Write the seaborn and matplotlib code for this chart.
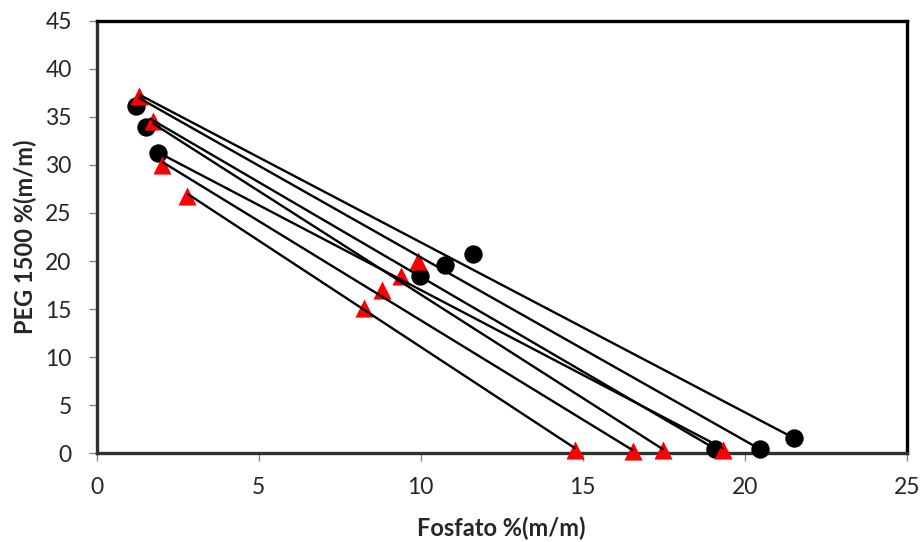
import matplotlib
matplotlib.use("Agg")
import matplotlib.pyplot as plt
import seaborn as sns
import pandas as pd

# Circle series (top, middle, bottom phase compositions)
circle_x = [1.21, 1.51, 1.90, 9.98, 10.75, 11.62, 19.08, 20.47, 21.52]
circle_y = [36.1, 33.9, 31.2, 18.4, 19.6, 20.7, 0.5, 0.45, 1.6]

# Triangle series
tri_x = [1.31, 1.75, 2.01, 2.78, 8.26, 8.80, 9.38, 9.93, 14.76, 16.54, 17.47, 19.32]
tri_y = [37.2, 34.55, 30.0, 26.8, 15.1, 17.0, 18.5, 20.0, 0.35, 0.25, 0.35, 0.35]

# Tie lines: start (top phase) and end (bottom phase)
tie_x0 = [1.34, 1.31, 1.65, 1.74, 1.95, 2.05, 2.82]
tie_y0 = [37.25, 36.95, 34.8, 34.3, 31.2, 30.25, 26.95]
tie_x1 = [21.52, 20.47, 19.08, 17.47, 19.32, 16.54, 14.76]
tie_y1 = [1.6, 0.45, 0.5, 0.45, 0.55, 0.35, 0.55]

x_ticks = [0, 5, 10, 15, 20, 25]
y_ticks = [0, 5, 10, 15, 20, 25, 30, 35, 40, 45]
x_label = "Fosfato %(m/m)"
y_label = "PEG 1500 %(m/m)"

sns.set_style("white")
plt.rcParams['font.family'] = ['Lato', 'DejaVu Sans']

fig = plt.figure(figsize=(9.24, 5.42), dpi=100)
ax = fig.add_axes([0.1047, 0.1633, 0.9813 - 0.1047, 0.962 - 0.1633])

circ_df = pd.DataFrame({"x": circle_x, "y": circle_y})
tri_df = pd.DataFrame({"x": tri_x, "y": tri_y})

rows = []
for i in range(len(tie_x0)):
    rows.append({"tie": i, "x": tie_x0[i], "y": tie_y0[i], "order": 0})
    rows.append({"tie": i, "x": tie_x1[i], "y": tie_y1[i], "order": 1})
tie_df = pd.DataFrame(rows)

sns.scatterplot(data=circ_df, x="x", y="y", ax=ax, marker="o", s=175,
                color="black", edgecolor="black", linewidth=0, zorder=3, clip_on=False)
sns.scatterplot(data=tri_df, x="x", y="y", ax=ax, marker="^", s=170,
                color="#ff0000", edgecolor="#ff0000", linewidth=0, zorder=4, clip_on=False)
sns.lineplot(data=tie_df, x="x", y="y", units="tie", estimator=None, sort=False,
             ax=ax, color="black", linewidth=1.7, zorder=5)

ax.set_xlim(0, 25)
ax.set_ylim(0, 45)
ax.set_xticks(x_ticks)
ax.set_yticks(y_ticks)
ax.tick_params(axis="both", which="major", direction="out", length=6, width=1,
               color="#888888", labelsize=16.5, left=True, bottom=True)
ax.tick_params(axis="y", pad=12)
ax.tick_params(axis="x", pad=11)
for side, sp in ax.spines.items():
    sp.set_color("black")
    sp.set_linewidth(2.4)
ax.spines["left"].set_color("#303030")
ax.spines["bottom"].set_color("#303030")

ax.set_xlabel(x_label, fontsize=17, fontweight="bold", labelpad=13)
ax.set_ylabel(y_label, fontsize=17, fontweight="bold", labelpad=6)

fig.savefig("out.png", dpi=100)
